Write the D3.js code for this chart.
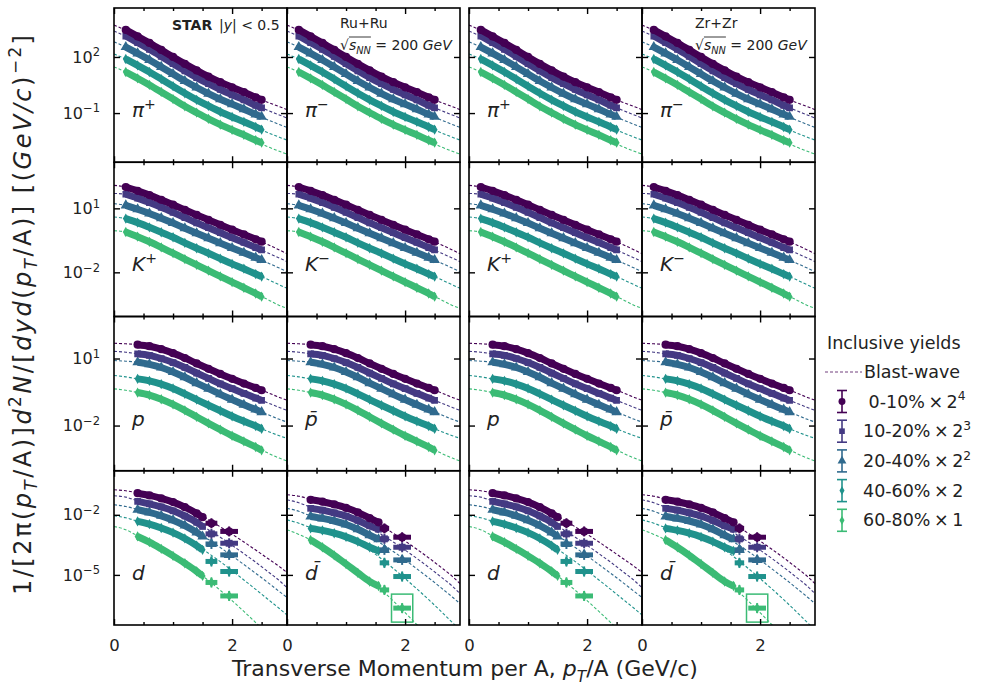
<!DOCTYPE html>
<html><head><meta charset="utf-8">
<script src="https://cdn.jsdelivr.net/npm/d3@7"></script>
<style>body{margin:0;background:#fff} svg{font-family:"DejaVu Sans",sans-serif}</style>
</head><body><svg id="c" width="986" height="688"></svg>
<script>
// ---------------- DATA ----------------
const centralityLabels = [" 0-10%\u2009×\u20092", "10-20%\u2009×\u20092", "20-40%\u2009×\u20092", "40-60%\u2009×\u20092", "60-80%\u2009×\u20091"];
const centralitySups = ["4", "3", "2", "", ""];
const xTickValues = [0, 2];
const xMinorTicks = [0.5, 1, 1.5, 2.5];
const yTickValues = [[1e2, 1e-1], [1e1, 1e-2], [1e1, 1e-2], [1e-2, 1e-5]];
const particleBase = [["π","π","π","π"],["K","K","K","K"],["p","p\u0304","p","p\u0304"],["d","d\u0304","d","d\u0304"]];
const particleSup = [["+","−","+","−"],["+","−","+","−"],["","","",""],["","","",""]];
const panelSpecies = [["pion","pion","pion","pion"],["kaon","kaon","kaon","kaon"],["proton","proton","proton","proton"],["deuteron","antideuteron","deuteron","antideuteron"]];

const bwX = [0,0.2,0.4,0.6,0.8,1.0,1.2,1.4,1.6,1.8,2.0,2.2,2.4,2.6,2.8,2.95];

const pionX = [0.2,0.4,0.6,0.8,1.0,1.2,1.4,1.6,1.8,2.0,2.2,2.4,2.5];
const pionYield = [
 [2.8e3,1.26e3,562,240,100,42.7,19.1,8.9,4.5,2.4,1.32,0.69,0.51],
 [1.32e3,589,257,107,43.7,18.2,7.9,3.7,1.82,0.95,0.51,0.26,0.19],
 [339,155,69,29.5,12.3,5.2,2.34,1.10,0.55,0.30,0.16,0.085,0.063],
 [78,35.5,15.8,6.6,2.75,1.15,0.51,0.24,0.117,0.062,0.034,0.018,0.013],
 [15.8,7.2,3.2,1.35,0.56,0.23,0.105,0.049,0.024,0.0126,0.0068,0.0035,0.0026]];
const pionBW = [
 [5.1e3,2.7e3,1.23e3,550,234,98,41.7,18.6,8.7,4.4,2.34,1.29,0.69,0.38,0.22,0.145],
 [2.45e3,1.26e3,562,245,105,42.7,17.8,7.8,3.55,1.74,0.93,0.50,0.26,0.141,0.079,0.051],
 [646,339,155,69,29.5,12.0,5.1,2.29,1.07,0.54,0.28,0.151,0.079,0.044,0.0245,0.0162],
 [145,76,34.7,15.1,6.5,2.7,1.12,0.50,0.23,0.112,0.060,0.032,0.0166,0.0091,0.0051,0.0034],
 [29.5,15.5,7.1,3.1,1.32,0.54,0.22,0.098,0.045,0.022,0.0115,0.006,0.0031,0.0016,0.00091,0.0006]];

const kaonX = [0.2,0.4,0.6,0.8,1.0,1.2,1.4,1.6,1.8,2.0,2.2,2.4,2.5];
const kaonYield = [
 [100,66,41.7,25.1,14.8,8.5,4.9,2.88,1.70,1.0,0.60,0.355,0.275],
 [45.7,30.2,18.6,11.2,6.5,3.7,2.09,1.23,0.72,0.42,0.25,0.145,0.112],
 [13.8,9.1,5.75,3.47,2.04,1.17,0.68,0.40,0.234,0.138,0.083,0.049,0.038],
 [3.3,2.14,1.29,0.76,0.44,0.24,0.135,0.078,0.044,0.025,0.0148,0.0083,0.0063],
 [0.78,0.47,0.27,0.148,0.079,0.042,0.0224,0.012,0.0065,0.0035,0.0019,0.00102,0.00072]];
const kaonBW = [
 [120,100,66,41.7,25.1,14.8,8.5,4.9,2.88,1.70,1.0,0.60,0.355,0.204,0.112,0.071],
 [50,45.7,30.2,18.6,11.2,6.5,3.7,2.09,1.23,0.72,0.42,0.25,0.145,0.083,0.047,0.030],
 [16.6,13.8,9.1,5.75,3.47,2.04,1.17,0.68,0.40,0.234,0.138,0.083,0.049,0.028,0.0158,0.010],
 [3.9,3.3,2.14,1.29,0.76,0.44,0.24,0.135,0.078,0.044,0.025,0.0148,0.0083,0.0047,0.0026,0.0017],
 [0.89,0.78,0.47,0.27,0.148,0.079,0.042,0.0224,0.012,0.0065,0.0035,0.0019,0.00102,0.00054,0.00028,0.0002]];

const protonX = [0.4,0.6,0.8,1.0,1.2,1.4,1.6,1.8,2.0,2.2,2.4,2.5];
const protonYield = [
 [41.7,35.5,26.3,17.4,10.5,6.0,3.47,2.04,1.23,0.76,0.48,0.38],
 [16.2,13.8,10,6.6,3.98,2.24,1.29,0.74,0.45,0.275,0.17,0.135],
 [6.8,5.5,3.98,2.51,1.45,0.79,0.45,0.25,0.145,0.085,0.052,0.040],
 [1.23,1.0,0.72,0.46,0.26,0.145,0.081,0.046,0.026,0.0155,0.0095,0.0072],
 [0.30,0.23,0.151,0.089,0.048,0.0245,0.0126,0.0066,0.0035,0.00195,0.0011,0.00078]];
const protonBW = [
 [47.9,45.7,41.7,35.5,26.3,17.4,10.5,6.0,3.47,2.04,1.23,0.76,0.48,0.30,0.182,0.129],
 [20.9,19.1,16.2,13.8,10,6.6,3.98,2.24,1.29,0.74,0.45,0.275,0.17,0.105,0.065,0.046],
 [8.1,7.6,6.8,5.5,3.98,2.51,1.45,0.79,0.45,0.25,0.145,0.085,0.052,0.0316,0.019,0.0138],
 [1.74,1.51,1.23,1.0,0.72,0.46,0.26,0.145,0.081,0.046,0.026,0.0155,0.0095,0.0056,0.0035,0.0026],
 [0.44,0.38,0.30,0.23,0.151,0.089,0.048,0.0245,0.0126,0.0066,0.0035,0.00195,0.0011,0.0006,0.00035,0.00025]];

const deutX = [0.4,0.6,0.8,1.0,1.2,1.4,1.5];
const deutYield = [
 [0.12,0.093,0.066,0.043,0.024,0.0117,0.0076],
 [0.047,0.035,0.025,0.0158,0.0087,0.0042,0.0026],
 [0.0178,0.0132,0.0089,0.0054,0.0029,0.00132,0.00083],
 [0.0047,0.0034,0.0022,0.00129,0.00066,0.00029,0.000178],
 [0.00083,0.00043,0.0002,8.9e-5,3.8e-5,1.51e-5,8.9e-6]];
const deutHighX = [1.65,1.95];
const deutHighXErr = [0.1,0.15];
const deutHighYield = [[0.0038,0.00148],[0.00112,0.00038],[0.00035,0.0001],[4.7e-5,1.48e-5],[4.2e-6,8.9e-7]];
const deutBW = [
 [0.178,0.158,0.126,0.095,0.068,0.044,0.0245,0.0123,0.0058,0.0025,0.00107,0.00044,0.000174,6.8e-5,2.6e-5,1.2e-5],
 [0.089,0.076,0.050,0.036,0.025,0.0158,0.0087,0.0042,0.0018,0.00076,0.0003,0.000115,4.3e-5,1.51e-5,5.2e-6,2.0e-6],
 [0.0316,0.026,0.0186,0.0132,0.0089,0.0054,0.0029,0.00135,0.00058,0.000234,8.9e-5,3.3e-5,1.2e-5,4.3e-6,1.48e-6,6.8e-7],
 [0.0089,0.0071,0.0048,0.0034,0.0022,0.00129,0.00066,0.0003,0.00012,4.6e-5,1.62e-5,5.6e-6,1.9e-6,6.3e-7,2.1e-7,8.9e-8],
 [0.0026,0.0018,0.00089,0.00044,0.0002,8.9e-5,3.8e-5,1.51e-5,5.2e-6,1.7e-6,5.2e-7,1.5e-7,4.2e-8,1.1e-8,3.2e-9,1.3e-9]];

const antiDeutX = [0.4,0.6,0.8,1.0,1.2,1.4,1.55];
const antiDeutYield = [
 [0.056,0.045,0.033,0.0224,0.0132,0.0068,0.0042],
 [0.021,0.017,0.0126,0.0087,0.0052,0.0028,0.0019],
 [0.0083,0.0066,0.0049,0.0033,0.0019,0.00095,0.0006],
 [0.0021,0.00166,0.0012,0.00079,0.00046,0.00024,0.000158],
 [0.00056,0.00024,9.5e-5,3.5e-5,1.26e-5,4.7e-6,2.8e-6]];
const antiDeutHighX = [1.65,1.95];
const antiDeutHighXErr = [0.08,0.15];
const antiDeutHighYield = [[0.0021,0.00076],[0.00063,0.00024],[0.000178,5.6e-5],[4.0e-5,8.3e-6],[1.78e-6,2.2e-7]];
const antiDeutBW = [
 [0.1,0.085,0.06,0.045,0.0316,0.021,0.012,0.0062,0.0028,0.0012,0.00049,0.00019,7.1e-5,2.5e-5,8.5e-6,3.2e-6],
 [0.056,0.04,0.024,0.017,0.012,0.0079,0.0046,0.0023,0.00105,0.00044,0.000174,6.6e-5,2.4e-5,8.3e-6,2.75e-6,1e-6],
 [0.021,0.015,0.0089,0.0066,0.0047,0.003,0.0017,0.00083,0.00036,0.000148,5.6e-5,2.0e-5,7.1e-6,2.4e-6,7.9e-7,3.3e-7],
 [0.0056,0.0038,0.0023,0.00166,0.00115,0.0007,0.00038,0.000174,6.3e-5,2.1e-5,6.6e-6,2.0e-6,5.8e-7,1.6e-7,4.2e-8,1.6e-8],
 [0.0018,0.00105,0.00056,0.00025,0.000105,4.2e-5,1.6e-5,5.8e-6,1.78e-6,5e-7,1.3e-7,3.3e-8,7.9e-9,1.8e-9,4e-10,1.3e-10]];

// ---------------- LAYOUT / STYLE ----------------
const species = {
  pion: {x: pionX, y: pionYield, bw: pionBW},
  kaon: {x: kaonX, y: kaonYield, bw: kaonBW},
  proton: {x: protonX, y: protonYield, bw: protonBW},
  deuteron: {x: deutX, y: deutYield, bw: deutBW, hx: deutHighX, hxe: deutHighXErr, hy: deutHighYield},
  antideuteron: {x: antiDeutX, y: antiDeutYield, bw: antiDeutBW, hx: antiDeutHighX, hxe: antiDeutHighXErr, hy: antiDeutHighYield, boxed: true}
};
const colLeft = [114, 287, 469, 642], pw = 173, top0 = 8, ph = 154.25;
const yDomains = [[2.34e-4, 4.17e4], [8.5e-5, 1.45e3], [9.5e-5, 759], [3.16e-8, 1.58]];
const colors = [0,1,2,3,4].map(i => d3.interpolateViridis(i * 0.17));
const symbols = [d3.symbolCircle, d3.symbolSquare, d3.symbolTriangle, d3.symbolDiamond, d3.symbolDiamond];
const symSize = [38, 32, 34, 22, 22];
const ink = "#222";

const svg = d3.select("#c");
const defs = svg.append("defs");
const x = d3.scaleLinear().domain([0, 2.93]).range([0, pw]);

function rich(sel, segs, fs) {
  let shift = 0;
  segs.forEach(s => {
    const size = (s.sub || s.sup) ? fs * 0.7 : fs;
    const target = s.sub ? fs * 0.25 : s.sup ? -fs * 0.42 : 0;
    sel.append("tspan").text(s.t).attr("font-size", size)
      .attr("font-style", s.i ? "italic" : null).attr("font-weight", s.b ? "bold" : null)
      .attr("dy", target - shift);
    shift = target;
  });
}
function supExp(v) {
  const e = Math.round(Math.log10(v));
  return e < 0 ? "−" + Math.abs(e) : String(e);
}

for (let r = 0; r < 4; r++) {
  for (let c = 0; c < 4; c++) {
    const g = svg.append("g").attr("transform", `translate(${colLeft[c]},${top0 + r * ph})`);
    const id = `clip${r}${c}`;
    defs.append("clipPath").attr("id", id).append("rect").attr("width", pw).attr("height", ph);
    const y = d3.scaleLog().domain(yDomains[r]).range([ph, 0]);
    const inner = g.append("g").attr("clip-path", `url(#${id})`);
    const s = species[panelSpecies[r][c]];
    const line = d3.line().x(d => x(d[0])).y(d => y(d[1])).curve(d3.curveMonotoneX);

    for (let k = 4; k >= 0; k--) {
      const pts = d3.zip(s.x, s.y[k]);
      inner.append("path").attr("d", line(pts)).attr("fill", "none")
        .attr("stroke", colors[k]).attr("stroke-width", 7);
      inner.selectAll(null).data(pts).join("path")
        .attr("d", d3.symbol(symbols[k], symSize[k] * 1.4))
        .attr("transform", d => `translate(${x(d[0])},${y(d[1])})`)
        .attr("fill", colors[k]);
      if (s.hx) {
        s.hx.forEach((hx, j) => {
          const hv = s.hy[k][j];
          inner.append("rect").attr("x", x(hx - s.hxe[j])).attr("width", x(hx + s.hxe[j]) - x(hx - s.hxe[j]))
            .attr("y", y(hv) - 2.5).attr("height", 5).attr("fill", colors[k]);
          inner.append("line").attr("x1", x(hx)).attr("x2", x(hx)).attr("y1", y(hv) - 5).attr("y2", y(hv) + 5)
            .attr("stroke", colors[k]).attr("stroke-width", 2);
          inner.append("path").attr("d", d3.symbol(symbols[k], symSize[k] * 1.5))
            .attr("transform", `translate(${x(hx)},${y(hv)})`).attr("fill", colors[k]);
          if (s.boxed && k === 4 && j === s.hx.length - 1) {
            inner.append("rect").attr("x", x(hx - 0.18)).attr("width", x(hx + 0.18) - x(hx - 0.18))
              .attr("y", y(hv * 5)).attr("height", y(hv / 5) - y(hv * 5))
              .attr("fill", "none").attr("stroke", colors[k]).attr("stroke-width", 1.5);
          }
        });
      }
    }
    for (let k = 0; k < 5; k++) {
      inner.append("path").attr("d", line(d3.zip(bwX, s.bw[k]))).attr("fill", "none")
        .attr("stroke", colors[k]).attr("stroke-width", 1.1).attr("stroke-dasharray", "3,2");
    }

    // frame
    g.append("rect").attr("width", pw).attr("height", ph).attr("fill", "none")
      .attr("stroke", "#000").attr("stroke-width", 1.6);

    // ticks
    const tickStyle = sel => { sel.select(".domain").remove(); sel.selectAll(".tick line").attr("stroke", "#000").attr("stroke-width", 1.4); };
    const bx = g.append("g").attr("transform", `translate(0,${ph})`)
      .call(d3.axisBottom(x).tickValues(xTickValues).tickSize(-6).tickPadding(14).tickFormat(r === 3 ? d3.format("d") : () => ""));
    tickStyle(bx);
    bx.selectAll("text").attr("font-size", 16.5).attr("font-family", '"DejaVu Sans"').attr("fill", ink);
    tickStyle(g.append("g").attr("transform", `translate(0,${ph})`).call(d3.axisBottom(x).tickValues(xMinorTicks).tickSize(-3).tickFormat(() => "")));
    tickStyle(g.append("g").call(d3.axisTop(x).tickValues(xTickValues).tickSize(-6).tickFormat(() => "")));
    tickStyle(g.append("g").call(d3.axisTop(x).tickValues(xMinorTicks).tickSize(-3).tickFormat(() => "")));
    const ly = g.append("g").call(d3.axisLeft(y).tickValues(yTickValues[r]).tickSize(-6).tickPadding(14).tickFormat(() => ""));
    tickStyle(ly);
    if (c === 0) {
      ly.selectAll(".tick text").each(function(d) {
        const t = d3.select(this).attr("font-size", 16).attr("font-family", '"DejaVu Sans"').attr("fill", ink);
        t.append("tspan").text("10");
        t.append("tspan").attr("dy", "-0.55em").attr("font-size", 11.5).text(supExp(d));
      });
    }
    tickStyle(g.append("g").attr("transform", `translate(${pw},0)`).call(d3.axisRight(y).tickValues(yTickValues[r]).tickSize(-6).tickFormat(() => "")));

    // particle label
    const pl = g.append("text").attr("x", 18).attr("y", 109).attr("fill", ink);
    rich(pl, [{t: particleBase[r][c], i: true}, {t: particleSup[r][c], sup: true}], 20);

    if (r === 0 && c === 0) {
      g.append("text").attr("x", 58).attr("y", 22).attr("font-size", 14).attr("font-weight", "bold").attr("fill", ink).text("STAR");
      const t = g.append("text").attr("x", 105).attr("y", 22).attr("fill", ink);
      rich(t, [{t: "|"}, {t: "y", i: true}, {t: "| < 0.5"}], 14);
    }
    if (r === 0 && (c === 1 || c === 3)) {
      g.append("text").attr("x", 53).attr("y", 20).attr("font-size", 14).attr("fill", ink).text(c === 1 ? "Ru+Ru" : "Zr+Zr");
      const t = g.append("text").attr("x", 53).attr("y", 42).attr("fill", ink);
      rich(t, [{t: "√"}, {t: "s", i: true}, {t: "NN", i: true, sub: true}, {t: " = 200 "}, {t: "GeV", i: true}], 14);
      const node = t.node();
      const x0 = node.getStartPositionOfChar(1).x, x1 = node.getEndPositionOfChar(3).x;
      g.append("line").attr("x1", x0).attr("x2", x1).attr("y1", 42 - 13).attr("y2", 42 - 13)
        .attr("stroke", ink).attr("stroke-width", 0.9);
    }
  }
}

// axis titles
const yl = svg.append("text").attr("transform", "translate(31,315) rotate(-90)").attr("text-anchor", "middle").attr("fill", ink)
  .attr("textLength", 560).attr("lengthAdjust", "spacing");
rich(yl, [{t: "1/[2π("}, {t: "p", i: true}, {t: "T", i: true, sub: true}, {t: "/A)]"}, {t: "d", i: true}, {t: "2", sup: true},
  {t: "N", i: true}, {t: "/["}, {t: "dyd", i: true}, {t: "("}, {t: "p", i: true}, {t: "T", i: true, sub: true}, {t: "/A)] [("},
  {t: "GeV/c", i: true}, {t: ")"}, {t: "−2", sup: true}, {t: "]"}], 24);
const xl = svg.append("text").attr("x", 465).attr("y", 676).attr("text-anchor", "middle").attr("fill", ink);
rich(xl, [{t: "Transverse Momentum per A, "}, {t: "p", i: true}, {t: "T", i: true, sub: true}, {t: "/A (GeV/c)"}], 22);

// legend
svg.append("text").attr("x", 827).attr("y", 349).attr("font-size", 17.5).attr("fill", ink).text("Inclusive yields");
svg.append("line").attr("x1", 825).attr("x2", 862).attr("y1", 372).attr("y2", 372)
  .attr("stroke", colors[0]).attr("stroke-opacity", 0.75).attr("stroke-width", 1.2).attr("stroke-dasharray", "3,2");
svg.append("text").attr("x", 864).attr("y", 378).attr("font-size", 17.5).attr("fill", ink).text("Blast-wave");
centralityLabels.forEach((lab, i) => {
  const cy = 401.5 + 29.7 * i;
  const ig = svg.append("g").attr("transform", `translate(842,${cy})`).attr("stroke", colors[i]).attr("stroke-width", 1.6);
  ig.append("line").attr("y1", -11).attr("y2", 11);
  ig.append("line").attr("x1", -5).attr("x2", 5).attr("y1", -11).attr("y2", -11);
  ig.append("line").attr("x1", -5).attr("x2", 5).attr("y1", 11).attr("y2", 11);
  ig.append("path").attr("d", d3.symbol(symbols[i], symSize[i])).attr("fill", colors[i]).attr("stroke", "none");
  const t = svg.append("text").attr("x", 863).attr("y", cy + 6).attr("fill", ink).style("white-space", "pre");
  rich(t, [{t: lab}, {t: centralitySups[i], sup: true}], 17.5);
});
</script></body></html>
